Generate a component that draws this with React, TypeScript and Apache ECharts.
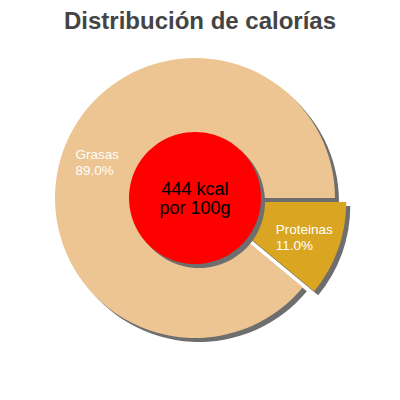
import React, { useEffect, useRef } from "react";
import * as echarts from "echarts";

const categories = ["Proteinas", "Grasas"];
const percents = [11.0, 89.0];
const colors = ["#DAA520", "#EDC592"];
const totalKcal = 444;
const titleText = "Distribución de calorías";
const centerText = `${totalKcal} kcal\npor 100g`;

export default function App() {
  const ref = useRef<HTMLDivElement>(null);
  useEffect(() => {
    document.body.style.margin = "0";
    const chart = echarts.init(ref.current!, null, { renderer: "svg" });
    const cx = 195;
    const cy = 198;
    const R = 140;
    const sh = 4;
    const mk = (withColor: boolean) =>
      categories.map((c, i) => ({
        name: c,
        value: percents[i],
        selected: i === 0,
        itemStyle: withColor ? { color: colors[i] } : undefined,
      }));
    chart.setOption({
      animation: false,
      title: {
        text: titleText,
        left: "center",
        top: 3,
        textStyle: {
          fontFamily: "Liberation Sans, Arial, sans-serif",
          fontSize: 24,
          fontWeight: "bold",
          color: "#444444",
        },
      },
      series: [
        {
          type: "pie",
          center: [cx + sh, cy + sh],
          radius: [0, R],
          startAngle: 0,
          clockwise: true,
          selectedMode: "single",
          selectedOffset: 12,
          silent: true,
          label: { show: false },
          labelLine: { show: false },
          itemStyle: { color: "#6e6e6e", borderWidth: 0 },
          data: mk(false),
          z: 1,
        },
        {
          type: "pie",
          center: [cx, cy],
          radius: [0, R],
          startAngle: 0,
          clockwise: true,
          selectedMode: "single",
          selectedOffset: 12,
          silent: true,
          label: { show: false },
          labelLine: { show: false },
          itemStyle: { borderWidth: 0 },
          data: mk(true),
          z: 2,
        },
        {
          type: "pie",
          center: [cx + sh, cy + sh],
          radius: [0, 66],
          silent: true,
          label: { show: false },
          labelLine: { show: false },
          itemStyle: { color: "#6e6e6e" },
          data: [{ name: "shadow", value: totalKcal }],
          z: 3,
        },
        {
          type: "pie",
          center: [cx, cy],
          radius: [0, 66],
          silent: true,
          label: {
            show: true,
            position: "center",
            formatter: centerText,
            fontFamily: "Liberation Sans, Arial, sans-serif",
            fontSize: 18,
            lineHeight: 19,
            color: "#000000",
          },
          labelLine: { show: false },
          itemStyle: { color: "#ff0000" },
          data: [{ name: "kcal", value: totalKcal }],
          z: 4,
        },
        {
          type: "pie",
          center: [cx, cy],
          radius: [62, R],
          startAngle: 0,
          clockwise: true,
          selectedMode: "single",
          selectedOffset: 12,
          silent: true,
          itemStyle: { color: "rgba(0,0,0,0)" },
          label: {
            show: true,
            position: "inside",
            formatter: (p: any) =>
              `{a|${p.name}}\n{a|${p.value.toFixed(1)}%}`,
            rich: {
              a: {
                align: "left",
                color: "#ffffff",
                fontFamily: "Liberation Sans, Arial, sans-serif",
                fontSize: 13.5,
                lineHeight: 16,
              },
            },
          },
          labelLine: { show: false },
          data: mk(false),
          z: 5,
        },
      ],
    });
    return () => chart.dispose();
  }, []);
  return <div ref={ref} style={{ width: 400, height: 400 }} />;
}
